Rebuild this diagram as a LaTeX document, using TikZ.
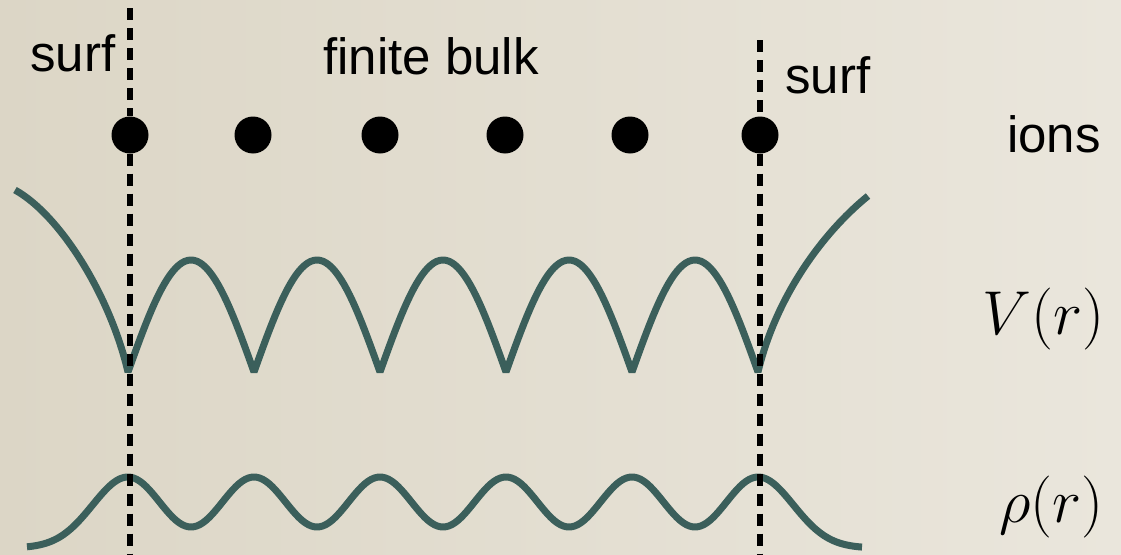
\documentclass[tikz,border=0pt]{standalone}
\usepackage{fix-cm}
\usepackage{fontspec}
\setmainfont{Liberation Sans}
\definecolor{paperL}{HTML}{DCD6C6}
\definecolor{paperR}{HTML}{EAE6DC}
\definecolor{teal}{HTML}{3B5F5B}
\tikzset{
  ion/.style={circle, fill=black, minimum size=37pt, inner sep=0pt},
  lbl/.style={anchor=base west, inner sep=0pt, font=\fontsize{51}{60}\selectfont},
  mlbl/.style={anchor=base west, inner sep=0pt, font=\fontsize{62}{70}\selectfont},
  surfline/.style={line width=5.5pt, dash pattern=on 12pt off 8pt, black},
  curve/.style={line width=7pt, teal, line join=bevel}
}
\begin{document}
\begin{tikzpicture}[x=1pt, y=-1pt]
  \shade[left color=paperL, right color=paperR] (0,0) rectangle (1121,554);
  \useasboundingbox (0,0) rectangle (1121,554);
  % labels
  \node[lbl] (sl) at (30,71) {surf};
  \node[lbl] (fb) at (323,74) {finite bulk};
  \node[lbl] (sr) at (785,93) {surf};
  \node[lbl] (ions) at (1007,152) {ions};
  \node[mlbl] (V) at (982,334) {$V(r)$};
  \node[mlbl] (rho) at (999,522) {$\rho(r)$};
  % ions
  \foreach \i/\x in {1/130,2/253,3/380,4/505,5/630,6/760}
    \node[ion] (i\i) at (\x,135) {};
  % potential
  \draw[curve] (15,190) .. controls (60,215) and (110,295) .. (128,372)
     -- plot[domain=128:758, samples=211] (\x,{372-112*abs(sin((\x-128)/126*180))})
     .. controls (775,300) and (820,235) .. (868,196);
  % density
  \draw[curve] plot[domain=27:128, samples=60] (\x,{548-71*exp(-((\x-128)/50)^2)})
     -- plot[domain=128:758, samples=211] (\x,{502-25*cos((\x-128)/126*360)})
     -- plot[domain=758:862, samples=60] (\x,{548-71*exp(-((\x-758)/50)^2)});
  % surface lines
  \coordinate (lt) at (130,8);
  \coordinate (lb) at (130,554);
  \coordinate (rt) at (760,40);
  \coordinate (rb) at (760,554);
  \draw[surfline] (lt) -- (i1) -- (lb);
  \draw[surfline] (rt) -- (i6) -- (rb);
\end{tikzpicture}
\end{document}
